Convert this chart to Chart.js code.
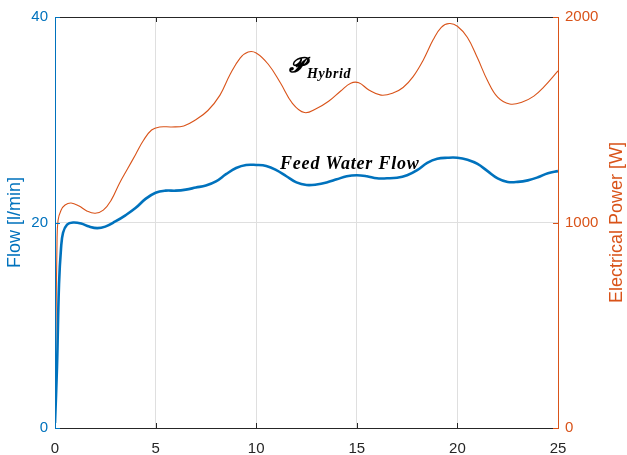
<!DOCTYPE html>
<html>
<head>
<meta charset="utf-8">
<script src="https://cdn.jsdelivr.net/npm/chart.js@4"></script>
<style>
  html, body { margin: 0; padding: 0; background: #fff; }
  #wrap { width: 627px; height: 455px; }
</style>
</head>
<body>
<div id="wrap"><canvas id="plot" width="627" height="455"></canvas></div>
<script>
// time axis [s] and measured series
const flowTime = [0, 0.1, 0.2, 0.3, 0.4, 0.6, 0.9, 1.3, 1.7, 2.1, 2.5, 3, 3.5, 4, 4.5, 5, 5.5, 6, 6.5, 7, 7.5, 8, 8.5, 9, 9.5, 10,
  10.5, 11, 11.5, 12, 12.5, 13, 13.5, 14, 14.5, 15, 15.5, 16, 16.5, 17, 17.5, 18, 18.5, 19, 19.5, 20,
  20.5, 21, 21.5, 22, 22.5, 23, 23.5, 24, 24.5, 25];
const feedWaterFlow = [0.5, 6, 14, 17.5, 19, 19.8, 20.0, 19.9, 19.6, 19.45, 19.6, 20.1, 20.7, 21.4, 22.3, 22.9, 23.1, 23.1, 23.2, 23.4, 23.6, 24.0, 24.7, 25.3, 25.6, 25.6,
  25.5, 25.1, 24.5, 23.9, 23.65, 23.7, 23.9, 24.2, 24.5, 24.6, 24.5, 24.3, 24.3, 24.35, 24.6, 25.1, 25.8, 26.2, 26.3, 26.3,
  26.1, 25.7, 25.0, 24.3, 23.95, 23.95, 24.1, 24.4, 24.8, 25.0];

const powerTime = [0, 0.05, 0.1, 0.15, 0.3, 0.5, 0.8, 1.2, 1.6, 2, 2.4, 2.8, 3.2, 3.6, 4, 4.4, 4.8, 5.2, 5.8, 6.4, 7, 7.6, 8.2, 8.7, 9.2, 9.6, 10,
  10.6, 11.2, 11.8, 12.4, 13, 13.6, 14.2, 14.7, 15.1, 15.6, 16.2, 16.8, 17.3, 17.8, 18.3, 18.8, 19.2, 19.6, 20,
  20.5, 21, 21.5, 22, 22.6, 23.2, 23.8, 24.3, 25];
const hybridPower = [0, 500, 900, 1010, 1060, 1085, 1095, 1080, 1055, 1045, 1060, 1110, 1190, 1260, 1330, 1400, 1450, 1465, 1465, 1470, 1500, 1545, 1620, 1720, 1800, 1830, 1825,
  1770, 1680, 1580, 1535, 1555, 1590, 1640, 1678, 1680, 1645, 1620, 1630, 1657, 1710, 1790, 1890, 1950, 1968, 1955,
  1900, 1800, 1690, 1610, 1577, 1585, 1615, 1660, 1738];

const xTicks = [0, 5, 10, 15, 20, 25];
const flowTicks = [0, 20, 40];
const powerTicks = [0, 1000, 2000];

const BLUE = '#0072BD';
const ORANGE = '#D95319';
const DARK = '#262626';
const GRID = '#dfdfdf';
const SANS = '"Liberation Sans", Arial, sans-serif';
const SERIF = '"Liberation Serif", "Times New Roman", serif';

const toPoints = (xs, ys) => xs.map((x, i) => ({ x: x, y: ys[i] }));
const plain = v => String(v);

// box, inward ticks, axis titles and the two curve labels
const decorations = {
  id: 'decorations',
  afterDraw(chart) {
    const ctx = chart.ctx;
    const a = chart.chartArea;
    const sx = chart.scales.x, sl = chart.scales.y, sr = chart.scales.y1;
    const tick = 5;
    ctx.save();
    ctx.lineWidth = 1;

    // top / bottom edges and x ticks
    ctx.strokeStyle = DARK;
    ctx.beginPath();
    ctx.moveTo(a.left, a.top + 0.5); ctx.lineTo(a.right, a.top + 0.5);
    ctx.moveTo(a.left, a.bottom + 0.5); ctx.lineTo(a.right, a.bottom + 0.5);
    xTicks.forEach(v => {
      const px = Math.round(sx.getPixelForValue(v)) + 0.5;
      ctx.moveTo(px, a.bottom); ctx.lineTo(px, a.bottom - tick);
      ctx.moveTo(px, a.top); ctx.lineTo(px, a.top + tick);
    });
    ctx.stroke();

    // left axis
    ctx.strokeStyle = BLUE;
    ctx.beginPath();
    ctx.moveTo(a.left + 0.5, a.top); ctx.lineTo(a.left + 0.5, a.bottom + 1);
    flowTicks.forEach(v => {
      const py = Math.round(sl.getPixelForValue(v)) + 0.5;
      ctx.moveTo(a.left, py); ctx.lineTo(a.left + tick, py);
    });
    ctx.stroke();

    // right axis
    ctx.strokeStyle = ORANGE;
    ctx.beginPath();
    ctx.moveTo(a.right + 0.5, a.top); ctx.lineTo(a.right + 0.5, a.bottom + 1);
    powerTicks.forEach(v => {
      const py = Math.round(sr.getPixelForValue(v)) + 0.5;
      ctx.moveTo(a.right, py); ctx.lineTo(a.right - tick, py);
    });
    ctx.stroke();

    // axis titles
    const midY = (a.top + a.bottom) / 2;
    ctx.font = '18px ' + SANS;
    ctx.textAlign = 'center';
    ctx.textBaseline = 'middle';
    ctx.fillStyle = BLUE;
    ctx.save();
    ctx.translate(15, midY);
    ctx.rotate(-Math.PI / 2);
    ctx.fillText('Flow [l/min]', 0, 0);
    ctx.restore();
    ctx.fillStyle = ORANGE;
    ctx.save();
    ctx.translate(617, midY);
    ctx.rotate(-Math.PI / 2);
    ctx.fillText('Electrical Power [W]', 0, 0);
    ctx.restore();

    // curve labels
    ctx.fillStyle = '#000';
    ctx.textAlign = 'left';
    ctx.textBaseline = 'alphabetic';
    ctx.font = 'italic bold 21px ' + SERIF;
    ctx.fillText('\u{1D4DF}', 289, 72);
    ctx.letterSpacing = '0.6px';
    ctx.font = 'italic bold 14px ' + SERIF;
    ctx.fillText('Hybrid', 307, 78);
    ctx.letterSpacing = '0.8px';
    ctx.font = 'italic bold 18px ' + SERIF;
    ctx.fillText('Feed Water Flow', 280, 169);
    ctx.letterSpacing = '0px';
    ctx.restore();
  }
};

new Chart(document.getElementById('plot'), {
  type: 'line',
  data: {
    datasets: [
      {
        label: 'Feed Water Flow',
        data: toPoints(flowTime, feedWaterFlow),
        yAxisID: 'y',
        borderColor: BLUE,
        borderWidth: 2.6,
        pointRadius: 0,
        tension: 0.4
      },
      {
        label: 'P Hybrid',
        data: toPoints(powerTime, hybridPower),
        yAxisID: 'y1',
        borderColor: ORANGE,
        borderWidth: 1.1,
        pointRadius: 0,
        tension: 0.4
      }
    ]
  },
  options: {
    responsive: false,
    animation: false,
    devicePixelRatio: 1,
    layout: { padding: { top: 17, left: 0, right: 0, bottom: 0 } },
    plugins: { legend: { display: false }, tooltip: { enabled: false } },
    scales: {
      x: {
        type: 'linear',
        min: 0, max: 25,
        afterBuildTicks: s => { s.ticks = xTicks.map(v => ({ value: v })); },
        afterFit: s => { s.height = 27; },
        ticks: { color: DARK, font: { family: SANS, size: 15 }, padding: 12, maxRotation: 0, callback: plain },
        grid: { color: GRID, drawTicks: false },
        border: { display: false }
      },
      y: {
        position: 'left',
        min: 0, max: 40,
        afterBuildTicks: s => { s.ticks = flowTicks.map(v => ({ value: v })); },
        afterFit: s => { s.width = 55; },
        ticks: { color: BLUE, font: { family: SANS, size: 15 }, padding: 7, callback: plain },
        grid: { color: GRID, drawTicks: false },
        border: { display: false }
      },
      y1: {
        position: 'right',
        min: 0, max: 2000,
        afterBuildTicks: s => { s.ticks = powerTicks.map(v => ({ value: v })); },
        afterFit: s => { s.width = 69; },
        ticks: { color: ORANGE, font: { family: SANS, size: 15 }, padding: 7, callback: plain },
        grid: { drawOnChartArea: false, drawTicks: false },
        border: { display: false }
      }
    }
  },
  plugins: [decorations]
});
</script>
</body>
</html>
